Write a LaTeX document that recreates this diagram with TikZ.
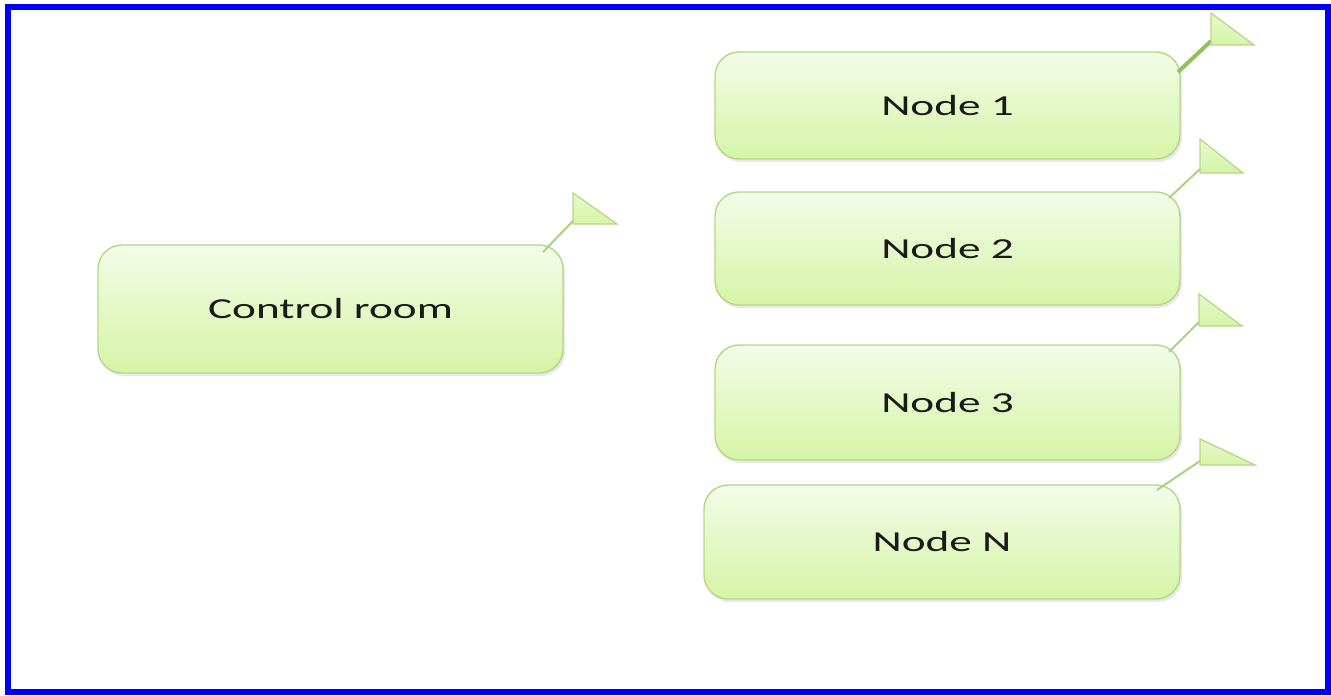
\documentclass[tikz,border=0pt]{standalone}
\usepackage{fontspec}
\setmainfont{Carlito}
\usetikzlibrary{shadows}
\definecolor{topc}{HTML}{F3FCE8}
\definecolor{botc}{HTML}{D6F4A6}
\definecolor{edgec}{HTML}{B3D885}
\definecolor{linec}{HTML}{AAD282}
\definecolor{darkline}{HTML}{8FC25C}
\definecolor{frame}{HTML}{0000FF}
\definecolor{txt}{HTML}{1A1A1A}
\tikzset{
  box/.style={draw=edgec, line width=1.4pt, rounded corners=24pt, top color=topc, bottom color=botc,
    inner sep=0pt, text=txt, font=\fontsize{29}{30}\selectfont,
    drop shadow={opacity=0.18, shadow xshift=2pt, shadow yshift=-3pt}},
  flag/.style={draw=edgec, line width=1.2pt, top color=topc!60!botc, bottom color=botc, line join=miter},
  pole/.style={draw=linec, line width=2pt},
}
\newcommand{\wide}[1]{\scalebox{1.56}[1]{#1}}
\begin{document}
\begin{tikzpicture}[x=1pt,y=-1pt]
\useasboundingbox (0,0) rectangle (1331,696);
\draw[frame, line width=6pt] (7.5,7) rectangle (1328,692);

\node[box, minimum width=465pt, minimum height=128pt] (cr) at (330.5,309) {\wide{Control room}};
\node[box, minimum width=465pt, minimum height=107pt] (n1) at (947.5,105.5) {\wide{Node 1}};
\node[box, minimum width=465pt, minimum height=113pt] (n2) at (947.5,248.5) {\wide{Node 2}};
\node[box, minimum width=465pt, minimum height=115pt] (n3) at (947.5,402.5) {\wide{Node 3}};
\node[box, minimum width=476pt, minimum height=114pt] (nN) at (942,542) {\wide{Node N}};

% flags
\coordinate (fcr) at (573,221);
\coordinate (f1) at (1211,41);
\coordinate (f2) at (1200,169);
\coordinate (f3) at (1199,322);
\coordinate (fN) at (1200,461);

\coordinate (pcr) at (543,252);
\coordinate (p1) at (1178,72);
\coordinate (p2) at (1169,198);
\coordinate (p3) at (1169,352);
\coordinate (pN) at (1157,490);

\draw[pole] (pcr) -- (fcr);
\draw[pole, draw=darkline, line width=4pt] (p1) -- (f1);
\draw[pole] (p2) -- (f2);
\draw[pole] (p3) -- (f3);
\draw[pole] (pN) -- (fN);

\path[flag] (573,193) -- (573,224) -- (617,224) -- cycle;
\path[flag] (1211,13) -- (1211,45) -- (1254,45) -- cycle;
\path[flag] (1200,139) -- (1200,173) -- (1243,173) -- cycle;
\path[flag] (1199,294) -- (1199,326) -- (1242,326) -- cycle;
\path[flag] (1200,439) -- (1200,465) -- (1255,465) -- cycle;
\end{tikzpicture}
\end{document}
